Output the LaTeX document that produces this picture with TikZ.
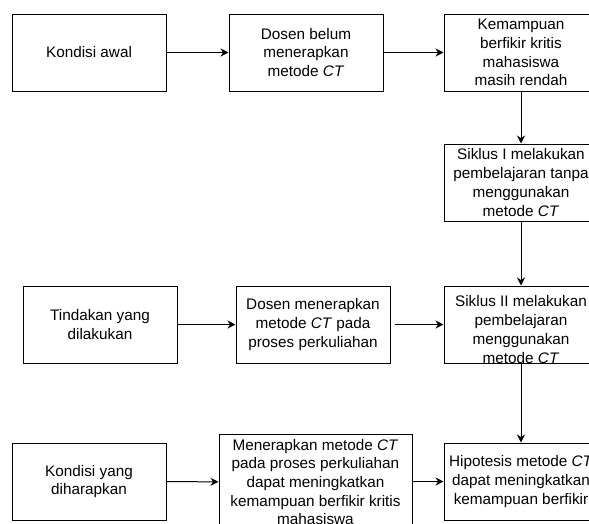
\documentclass[tikz,border=0pt]{standalone}
\usepackage{fontspec}
\setmainfont{Liberation Sans}
\usetikzlibrary{arrows.meta}

\begin{document}
\begin{tikzpicture}[x=1pt,y=-1pt,
        box/.style={draw, line width=1pt, minimum width=154pt, minimum height=77pt,
            inner sep=0pt, align=center, font=\fontsize{15.3}{18.7}\selectfont},
        txt/.style={inner sep=0pt, align=center, font=\fontsize{15.3}{18.7}\selectfont},
        arr/.style={-{Stealth[length=8pt,width=8pt]}, line width=1pt}]
                \useasboundingbox (0,0) rectangle (589,523);
                \clip (0,0) rectangle (589,523);

                % baris atas
                \node[box] (awal) at (89,52.5) {Kondisi awal};
                \node[box] (belum) at (306,52.5) {Dosen belum\\menerapkan\\metode \textit{CT}};
                \node[box] (rendah) at (521,52.5) {Kemampuan\\berfikir kritis\\mahasiswa\\masih rendah};
                \node[box] (siklus1) at (521,182.5) {Siklus I melakukan\\pembelajaran tanpa\\menggunakan\\metode \textit{CT}};

                % baris tengah
                \node[box] (tindakan) at (100,324.5) {Tindakan yang\\dilakukan};
                \node[box] (terapkan) at (313,324.5) {Dosen menerapkan\\metode \textit{CT} pada\\proses perkuliahan};
                \node[box, label={[txt,yshift=-5pt]center:Siklus II melakukan\\pembelajaran\\menggunakan\\metode \textit{CT}}] (siklus2) at (521,324.5) {};

                % baris bawah
                \node[box] (harapan) at (89,481.5) {Kondisi yang\\diharapkan};
                \node[box, minimum width=193pt, minimum height=96pt] (harapan2) at (315.5,482)
                    {Menerapkan metode \textit{CT}\\pada proses perkuliahan\\dapat meningkatkan\\kemampuan berfikir kritis\\mahasiswa};
                \node[box] (hipotesis) at (521,481.5) {Hipotesis metode \textit{CT}\\dapat meningkatkan\\kemampuan berfikir};

                \draw[arr] (awal) -- (belum);
                \draw[arr] (belum) -- (rendah);
                \draw[arr] (rendah) -- (siklus1);
                \draw[arr] (siklus1) -- (siklus2);
                \draw[arr] (tindakan) -- (terapkan);
                \draw[arr, shorten <=4pt] (terapkan) -- (siklus2);
                \draw[arr] (siklus2) -- (hipotesis);
                \draw[arr] (harapan) -- (harapan2);
                \draw[arr] (harapan2.east |- hipotesis) -- (hipotesis);
            \end{tikzpicture}
\end{document}
